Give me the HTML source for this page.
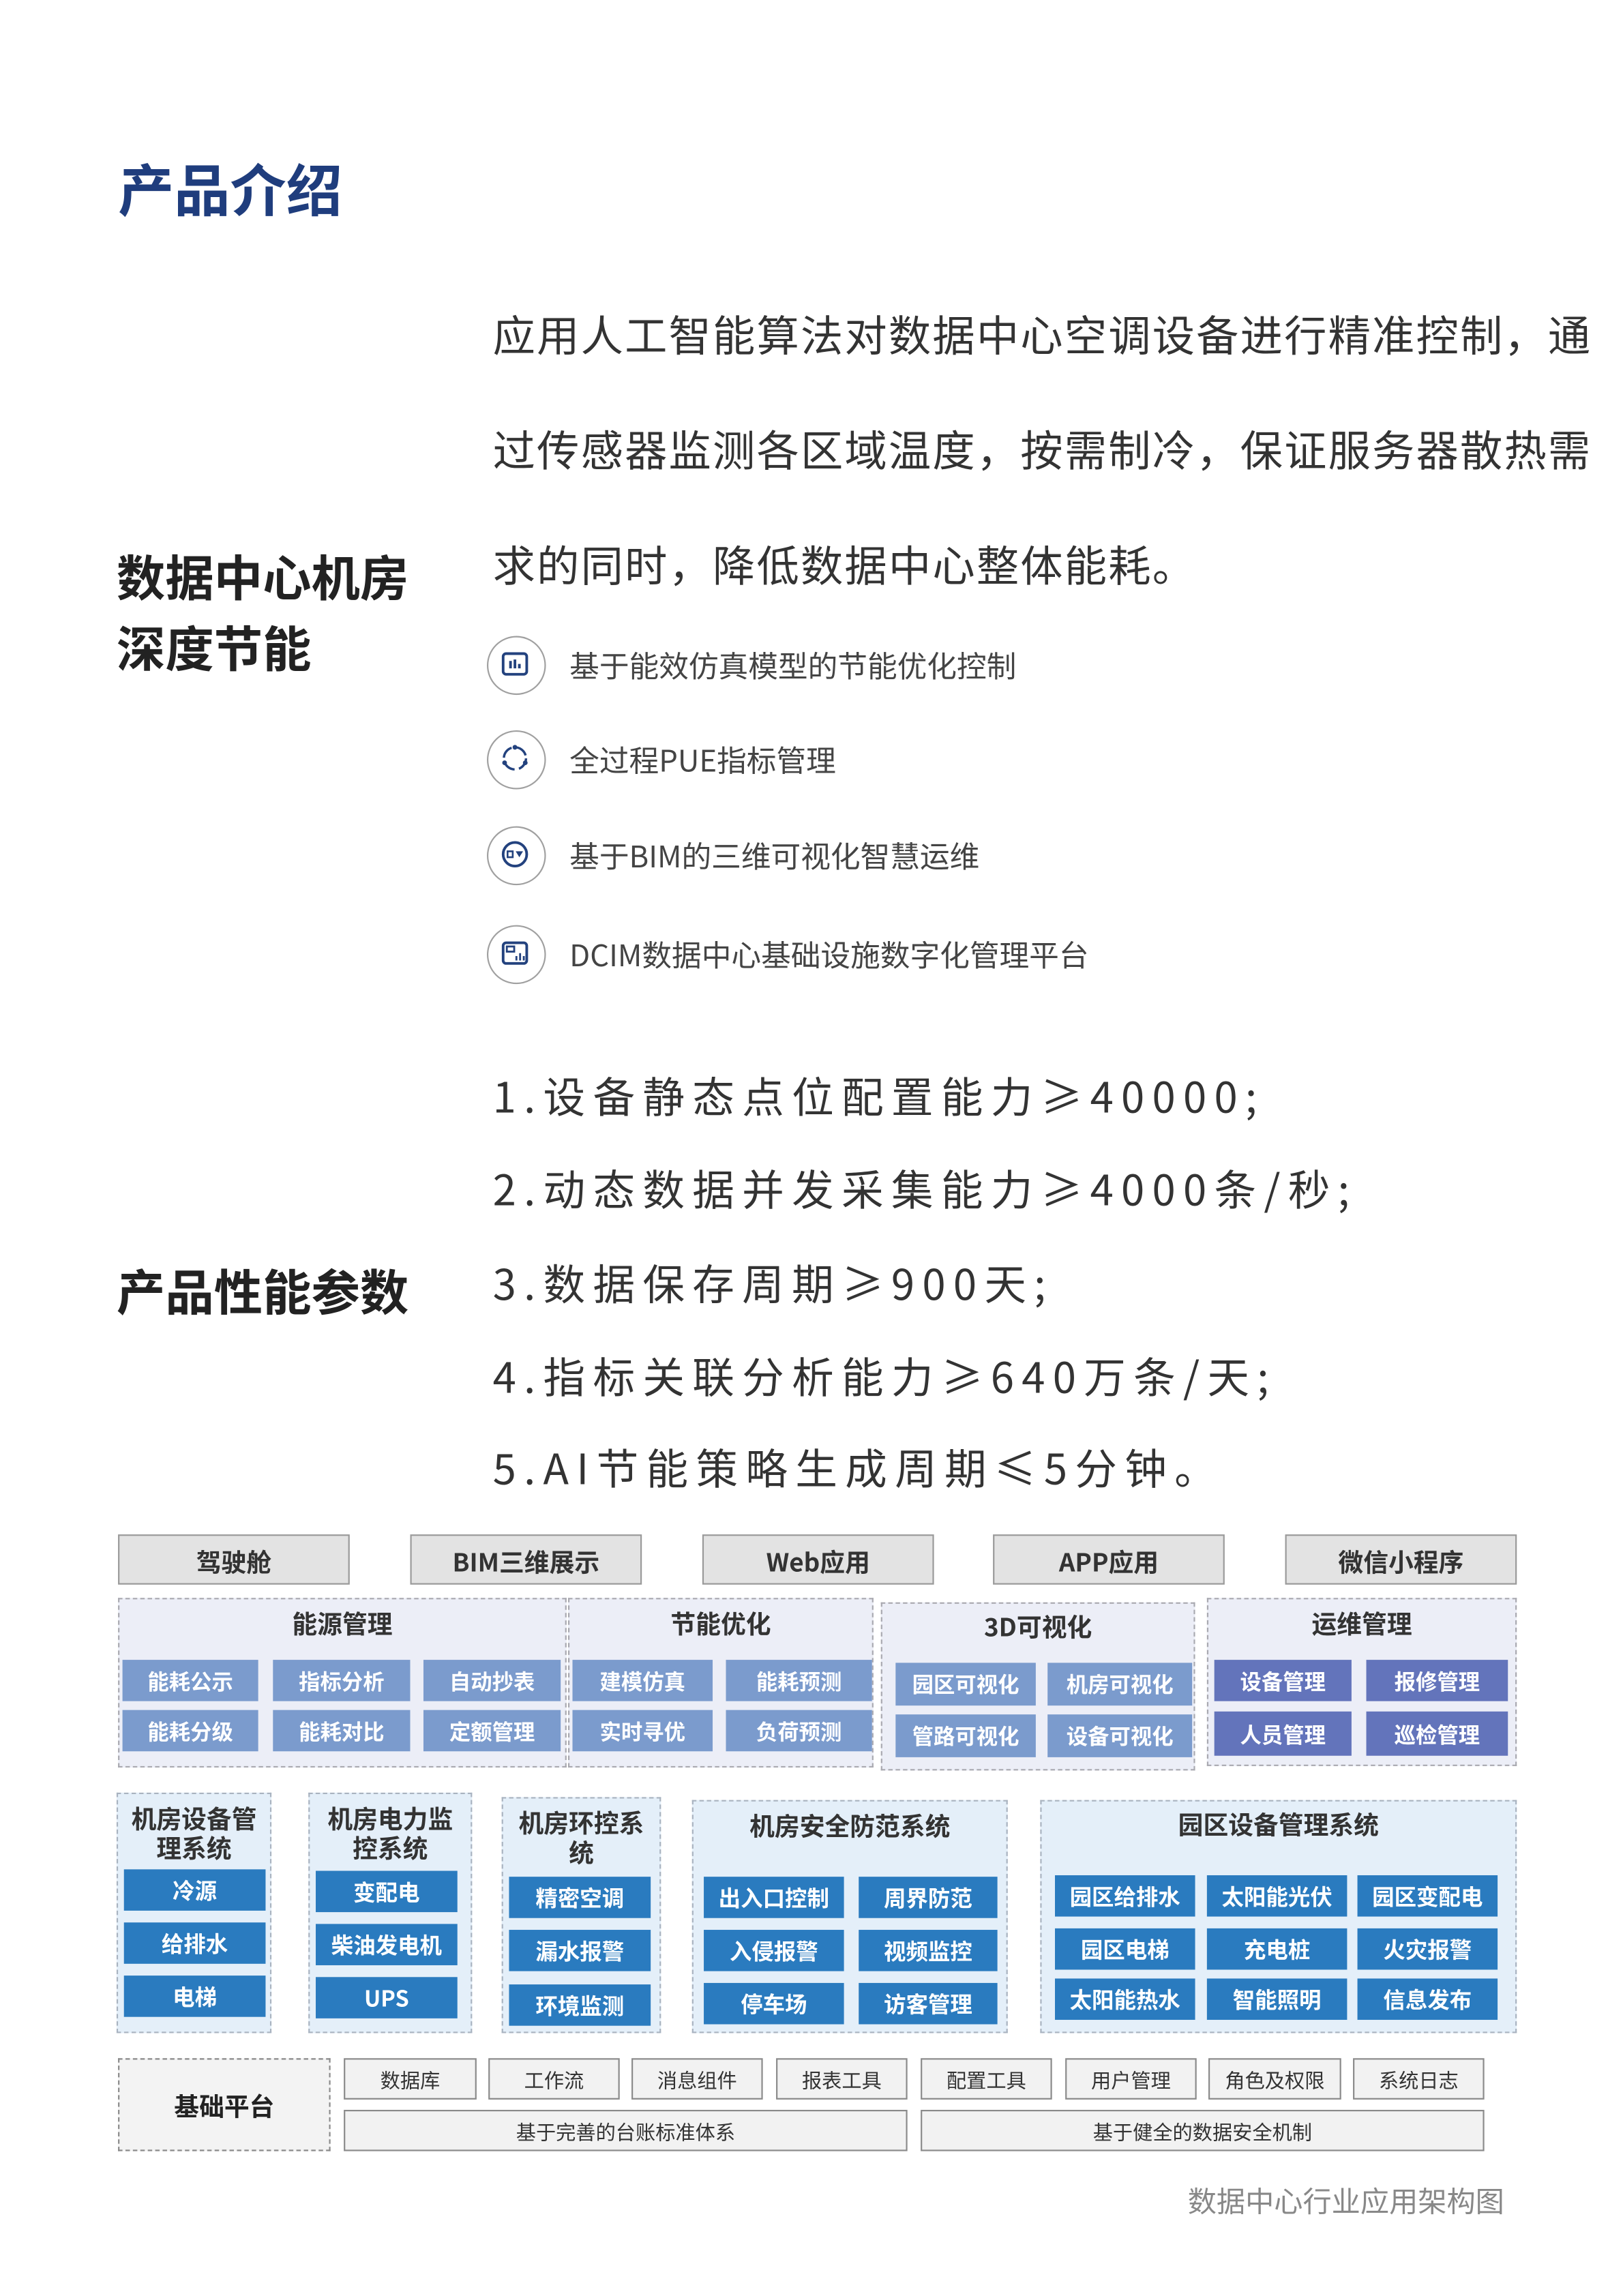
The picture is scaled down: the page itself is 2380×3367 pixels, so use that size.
<!DOCTYPE html>
<html><head><meta charset="utf-8"><style>
html,body{margin:0;padding:0;background:#fff;}
body{width:2380px;height:3367px;overflow:hidden;position:relative;}
#w{position:absolute;left:0;top:0;width:1100px;height:1556px;transform:scale(2.16364);transform-origin:0 0;font-family:"Noto Sans CJK SC","Liberation Sans",sans-serif;}
.a{position:absolute;}
.t{position:absolute;white-space:nowrap;line-height:1;}
.b{position:absolute;display:flex;align-items:center;justify-content:center;box-sizing:border-box;font-weight:700;white-space:nowrap;}
.top{background:#e3e3e3;border:1.5px solid #9a9a9a;color:#333;font-size:17px;}
.g{position:absolute;box-sizing:border-box;border:1.3px dashed #a9a9b0;background:#eceef7;}
.g2{position:absolute;box-sizing:border-box;border:1.3px dashed #a9b3c0;background:#e4eff9;}
.gt{position:absolute;left:0;right:0;text-align:center;font-weight:700;color:#333;font-size:17px;line-height:20px;}
.p{background:#7b9bcd;color:#fff;font-size:14.5px;}
.d{background:#6374bb;color:#fff;font-size:14.5px;}
.c{background:#2a7bbf;color:#fff;font-size:15px;}
.s{background:#f2f2f2;border:1.3px solid #8a8a8a;color:#333;font-size:13.5px;font-weight:400;}
.ic{position:absolute;width:40px;height:40px;border:1.8px solid #a0a0a0;border-radius:50%;box-sizing:border-box;}
.it{position:absolute;left:386px;font-size:20.2px;color:#444;white-space:nowrap;line-height:1;}
.n{position:absolute;left:334px;font-size:28.5px;color:#333;letter-spacing:5.2px;white-space:nowrap;line-height:1;}
.para{position:absolute;left:334px;font-size:28.8px;color:#333;letter-spacing:1px;white-space:nowrap;line-height:1;}
</style></head><body><div id="w">
<div class="t" style="left:80px;top:108px;font-size:38px;font-weight:700;color:#1f3d7d;">产品介绍</div>
<div class="para" style="top:213px;">应用人工智能算法对数据中心空调设备进行精准控制，通</div>
<div class="para" style="top:291px;">过传感器监测各区域温度，按需制冷，保证服务器散热需</div>
<div class="para" style="top:369px;">求的同时，降低数据中心整体能耗。</div>
<div class="t" style="left:79px;top:374px;font-size:33px;font-weight:700;color:#222;">数据中心机房</div>
<div class="t" style="left:79px;top:422px;font-size:33px;font-weight:700;color:#222;">深度节能</div>

<div class="ic" style="left:330px;top:431px;"><svg width="40" height="40" viewBox="0 0 40 40" style="position:absolute;left:-1.8px;top:-1.8px"><rect x="12" y="13" width="16" height="14" rx="2" fill="none" stroke="#23427e" stroke-width="1.8"/><path d="M17 18v5M20 17v6M23 20v3" stroke="#23427e" stroke-width="1.8"/></svg></div>
<div class="it" style="top:441px;">基于能效仿真模型的节能优化控制</div>
<div class="ic" style="left:330px;top:495px;"><svg width="40" height="40" viewBox="0 0 40 40" style="position:absolute;left:-1.8px;top:-1.8px"><circle cx="20" cy="20" r="7.5" fill="none" stroke="#23427e" stroke-width="1.6" stroke-dasharray="9 3"/><circle cx="20" cy="12.5" r="1.6" fill="#23427e"/><circle cx="13" cy="23" r="1.6" fill="#23427e"/><circle cx="27" cy="23" r="1.6" fill="#23427e"/></svg></div>
<div class="it" style="top:505px;">全过程PUE指标管理</div>
<div class="ic" style="left:330px;top:560px;"><svg width="40" height="40" viewBox="0 0 40 40" style="position:absolute;left:-1.8px;top:-1.8px"><circle cx="20" cy="20" r="8" fill="none" stroke="#23427e" stroke-width="1.8"/><rect x="15" y="18" width="3.5" height="4" fill="none" stroke="#23427e" stroke-width="1.2"/><path d="M20.5 18h5l-2.5 4z" fill="#23427e"/></svg></div>
<div class="it" style="top:570px;">基于BIM的三维可视化智慧运维</div>
<div class="ic" style="left:330px;top:627px;"><svg width="40" height="40" viewBox="0 0 40 40" style="position:absolute;left:-1.8px;top:-1.8px"><rect x="12" y="13" width="16" height="14" rx="2" fill="none" stroke="#23427e" stroke-width="1.8"/><rect x="14.5" y="15.5" width="5" height="3.5" fill="none" stroke="#23427e" stroke-width="1.3"/><path d="M21 22v3M23.5 20v5M26 22v3" stroke="#23427e" stroke-width="1.3"/></svg></div>
<div class="it" style="top:637px;">DCIM数据中心基础设施数字化管理平台</div>

<div class="n" style="top:729px;">1.设备静态点位配置能力≥40000;</div>
<div class="n" style="top:792px;">2.动态数据并发采集能力≥4000条/秒;</div>
<div class="n" style="top:856px;">3.数据保存周期≥900天;</div>
<div class="n" style="top:919px;">4.指标关联分析能力≥640万条/天;</div>
<div class="n" style="top:981px;">5.AI节能策略生成周期≤5分钟。</div>
<div class="t" style="left:79px;top:858px;font-size:33px;font-weight:700;color:#222;">产品性能参数</div>

<div class="b top" style="left:80px;top:1040px;width:157px;height:34px;">驾驶舱</div>
<div class="b top" style="left:278px;top:1040px;width:157px;height:34px;">BIM三维展示</div>
<div class="b top" style="left:476px;top:1040px;width:157px;height:34px;">Web应用</div>
<div class="b top" style="left:673px;top:1040px;width:157px;height:34px;">APP应用</div>
<div class="b top" style="left:871px;top:1040px;width:157px;height:34px;">微信小程序</div>

<div class="g" style="left:80px;top:1083px;width:304px;height:115px;"><div class="gt" style="top:6px;">能源管理</div></div>
<div class="g" style="left:385px;top:1083px;width:207px;height:115px;"><div class="gt" style="top:6px;">节能优化</div></div>
<div class="g" style="left:597px;top:1086px;width:213px;height:114px;"><div class="gt" style="top:5px;">3D可视化</div></div>
<div class="g" style="left:818px;top:1083px;width:210px;height:114px;"><div class="gt" style="top:6px;">运维管理</div></div>
<div class="b p" style="left:83px;top:1125px;width:92px;height:28px;">能耗公示</div>
<div class="b p" style="left:185px;top:1125px;width:93px;height:28px;">指标分析</div>
<div class="b p" style="left:287px;top:1125px;width:93px;height:28px;">自动抄表</div>
<div class="b p" style="left:83px;top:1159px;width:92px;height:28px;">能耗分级</div>
<div class="b p" style="left:185px;top:1159px;width:93px;height:28px;">能耗对比</div>
<div class="b p" style="left:287px;top:1159px;width:93px;height:28px;">定额管理</div>
<div class="b p" style="left:388px;top:1125px;width:95px;height:28px;">建模仿真</div>
<div class="b p" style="left:492px;top:1125px;width:99px;height:28px;">能耗预测</div>
<div class="b p" style="left:388px;top:1159px;width:95px;height:28px;">实时寻优</div>
<div class="b p" style="left:492px;top:1159px;width:99px;height:28px;">负荷预测</div>
<div class="b p" style="left:607px;top:1127px;width:95px;height:29px;">园区可视化</div>
<div class="b p" style="left:710px;top:1127px;width:98px;height:29px;">机房可视化</div>
<div class="b p" style="left:607px;top:1162px;width:95px;height:29px;">管路可视化</div>
<div class="b p" style="left:710px;top:1162px;width:98px;height:29px;">设备可视化</div>
<div class="b d" style="left:823px;top:1125px;width:93px;height:28px;">设备管理</div>
<div class="b d" style="left:926px;top:1125px;width:96px;height:28px;">报修管理</div>
<div class="b d" style="left:823px;top:1160px;width:93px;height:30px;">人员管理</div>
<div class="b d" style="left:926px;top:1160px;width:96px;height:30px;">巡检管理</div>

<div class="g2" style="left:79px;top:1215px;width:105px;height:163px;"><div class="gt" style="top:6px;">机房设备管<br>理系统</div></div>
<div class="g2" style="left:209px;top:1215px;width:111px;height:163px;"><div class="gt" style="top:6px;">机房电力监<br>控系统</div></div>
<div class="g2" style="left:340px;top:1218px;width:108px;height:160px;"><div class="gt" style="top:6px;">机房环控系<br>统</div></div>
<div class="g2" style="left:469px;top:1220px;width:214px;height:158px;"><div class="gt" style="top:6px;">机房安全防范系统</div></div>
<div class="g2" style="left:705px;top:1220px;width:323px;height:158px;"><div class="gt" style="top:5px;">园区设备管理系统</div></div>
<div class="b c" style="left:84px;top:1267px;width:96px;height:28px;">冷源</div>
<div class="b c" style="left:84px;top:1303px;width:96px;height:28px;">给排水</div>
<div class="b c" style="left:84px;top:1339px;width:96px;height:28px;">电梯</div>
<div class="b c" style="left:214px;top:1268px;width:96px;height:28px;">变配电</div>
<div class="b c" style="left:214px;top:1304px;width:96px;height:28px;">柴油发电机</div>
<div class="b c" style="left:214px;top:1340px;width:96px;height:28px;">UPS</div>
<div class="b c" style="left:345px;top:1272px;width:96px;height:28px;">精密空调</div>
<div class="b c" style="left:345px;top:1308px;width:96px;height:28px;">漏水报警</div>
<div class="b c" style="left:345px;top:1345px;width:96px;height:28px;">环境监测</div>
<div class="b c" style="left:477px;top:1272px;width:95px;height:28px;">出入口控制</div>
<div class="b c" style="left:582px;top:1272px;width:94px;height:28px;">周界防范</div>
<div class="b c" style="left:477px;top:1308px;width:95px;height:28px;">入侵报警</div>
<div class="b c" style="left:582px;top:1308px;width:94px;height:28px;">视频监控</div>
<div class="b c" style="left:477px;top:1344px;width:95px;height:28px;">停车场</div>
<div class="b c" style="left:582px;top:1344px;width:94px;height:28px;">访客管理</div>
<div class="b c" style="left:715px;top:1271px;width:95px;height:28px;">园区给排水</div>
<div class="b c" style="left:818px;top:1271px;width:95px;height:28px;">太阳能光伏</div>
<div class="b c" style="left:920px;top:1271px;width:95px;height:28px;">园区变配电</div>
<div class="b c" style="left:715px;top:1307px;width:95px;height:28px;">园区电梯</div>
<div class="b c" style="left:818px;top:1307px;width:95px;height:28px;">充电桩</div>
<div class="b c" style="left:920px;top:1307px;width:95px;height:28px;">火灾报警</div>
<div class="b c" style="left:715px;top:1341px;width:95px;height:28px;">太阳能热水</div>
<div class="b c" style="left:818px;top:1341px;width:95px;height:28px;">智能照明</div>
<div class="b c" style="left:920px;top:1341px;width:95px;height:28px;">信息发布</div>

<div class="b" style="left:80px;top:1395px;width:144px;height:63px;border:1.5px dashed #8a8a8a;background:#f3f3f3;font-size:17px;color:#222;">基础平台</div>
<div class="b s" style="left:233px;top:1395px;width:90px;height:28px;">数据库</div>
<div class="b s" style="left:331px;top:1395px;width:89px;height:28px;">工作流</div>
<div class="b s" style="left:428px;top:1395px;width:89px;height:28px;">消息组件</div>
<div class="b s" style="left:526px;top:1395px;width:89px;height:28px;">报表工具</div>
<div class="b s" style="left:624px;top:1395px;width:89px;height:28px;">配置工具</div>
<div class="b s" style="left:722px;top:1395px;width:89px;height:28px;">用户管理</div>
<div class="b s" style="left:819px;top:1395px;width:90px;height:28px;">角色及权限</div>
<div class="b s" style="left:917px;top:1395px;width:89px;height:28px;">系统日志</div>
<div class="b s" style="left:233px;top:1430px;width:382px;height:28px;">基于完善的台账标准体系</div>
<div class="b s" style="left:624px;top:1430px;width:382px;height:28px;">基于健全的数据安全机制</div>
<div class="t" style="left:805px;top:1481px;font-size:19.5px;color:#888;">数据中心行业应用架构图</div>
</div></body></html>
